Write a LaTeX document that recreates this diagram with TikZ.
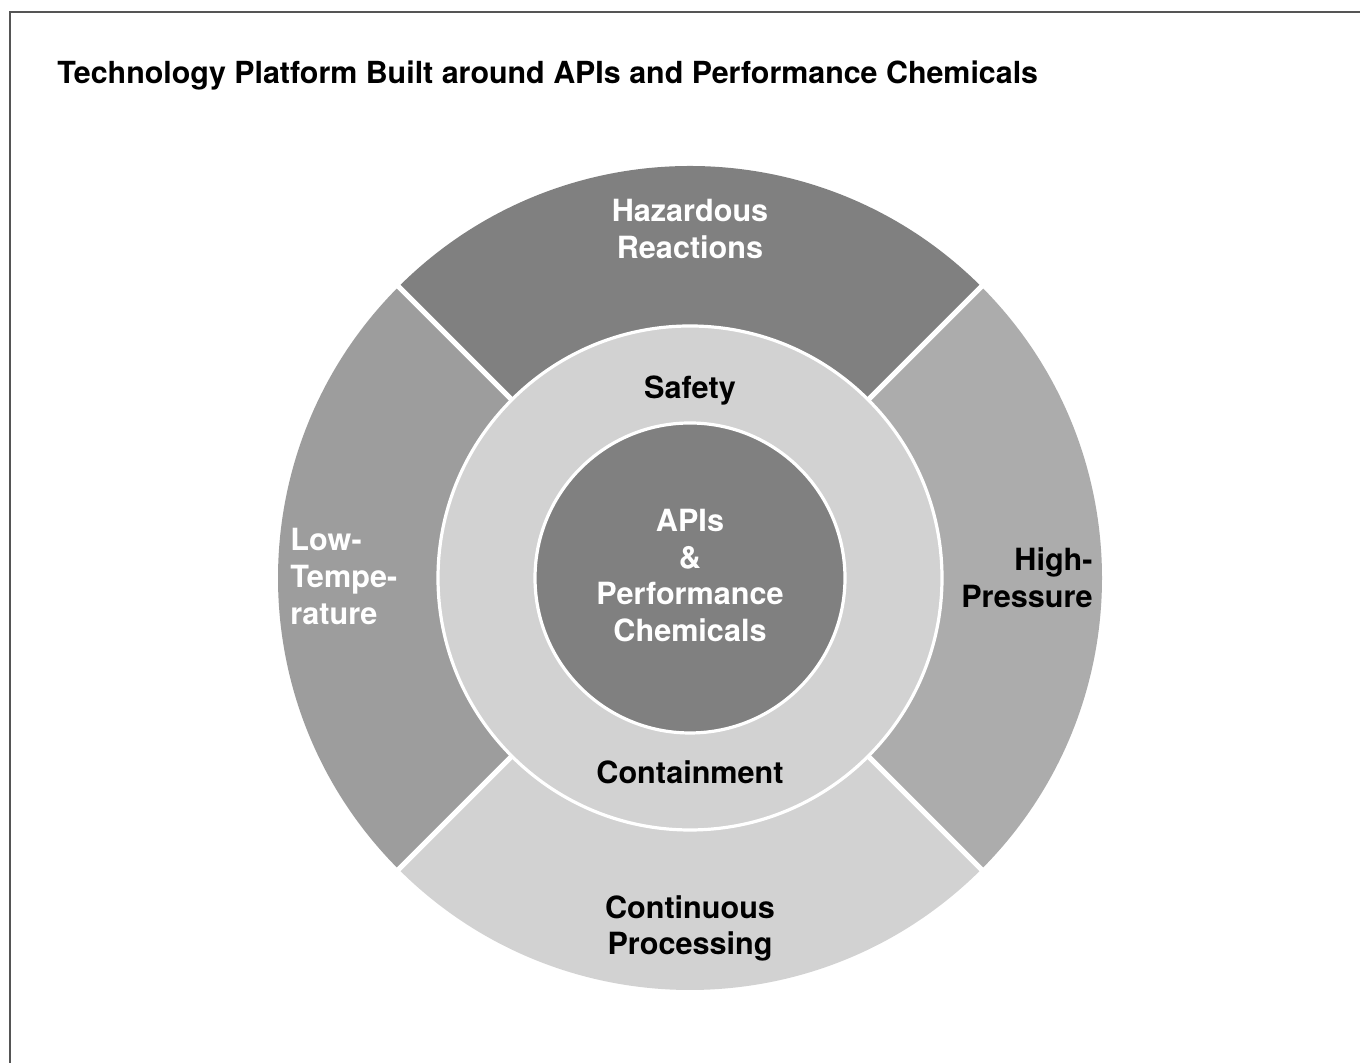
\documentclass[tikz,border=0pt]{standalone}
\usepackage{fontspec}
\setmainfont{TeX Gyre Heros}
\usetikzlibrary{calc}
\definecolor{segA}{HTML}{808080}
\definecolor{segB}{HTML}{9D9D9D}
\definecolor{segC}{HTML}{ACACAC}
\definecolor{segD}{HTML}{D2D2D2}
\definecolor{framec}{HTML}{555555}
\begin{document}
\begin{tikzpicture}[x=0.5pt,y=0.5pt,
  lbl/.style={font=\bfseries\fontsize{15.3}{18.3}\selectfont, inner sep=0pt, align=center},
  sep/.style={draw=white, line width=2.5pt},
  ringedge/.style={draw=white, line width=1.6pt}]
\useasboundingbox (0,0) rectangle (1360,1063);
\fill[white] (0,0) rectangle (1360,1063);
\begin{scope}
\clip (0,0) rectangle (1360,1063);
\draw[framec, line width=1pt] (10,-20) rectangle (1380,1051);
\end{scope}
\node[anchor=base west, inner sep=0pt, font=\bfseries\fontsize{15.2}{17}\selectfont] (title) at (57,979) {Technology Platform Built around APIs and Performance Chemicals};
\coordinate (c) at (690,485);
% outer segments
\fill[segA] ($(c)+(45:253)$) arc[start angle=45,end angle=135,radius=253] -- ($(c)+(135:412)$) arc[start angle=135,end angle=45,radius=412] -- cycle;
\fill[segB] ($(c)+(135:253)$) arc[start angle=135,end angle=225,radius=253] -- ($(c)+(225:412)$) arc[start angle=225,end angle=135,radius=412] -- cycle;
\fill[segD] ($(c)+(225:253)$) arc[start angle=225,end angle=315,radius=253] -- ($(c)+(315:412)$) arc[start angle=315,end angle=225,radius=412] -- cycle;
\fill[segC] ($(c)+(-45:253)$) arc[start angle=-45,end angle=45,radius=253] -- ($(c)+(45:412)$) arc[start angle=45,end angle=-45,radius=412] -- cycle;
\foreach \a in {45,135,225,315}{
  \draw[sep] ($(c)+(\a:240)$) -- ($(c)+(\a:416)$);
}
% middle ring and inner circle
\filldraw[fill=segD, ringedge] (c) circle[radius=252];
\filldraw[fill=segA, ringedge] (c) circle[radius=155];
% labels
\node[lbl, text=white] (haz) at (690,834) {Hazardous\\Reactions};
\node[lbl, text=black] (safety) at (690,672) {Safety};
\node[lbl, text=white] (apis) at (690,487.5) {APIs\\\&\\Performance\\Chemicals};
\node[lbl, text=black] (contain) at (690,291) {Containment};
\node[lbl, text=black] (cont) at (690,134.5) {Continuous\\Processing};
\node[lbl, text=white, align=left, anchor=west] (low) at (290,486.5) {Low-\\Tempe-\\rature};
\node[lbl, text=black, align=right, anchor=east] (high) at (1093,485) {High-\\Pressure};
\end{tikzpicture}
\end{document}
